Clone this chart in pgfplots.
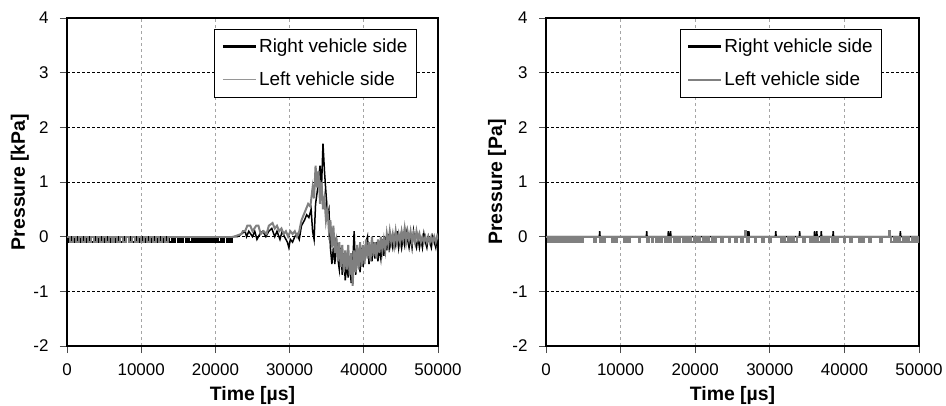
\documentclass[border=0pt]{standalone}
\usepackage{fontspec}
\setmainfont{Liberation Sans}
\usepackage{pgfplots}
\pgfplotsset{compat=1.18}
\definecolor{grline}{RGB}{128,128,128}
\definecolor{gridv}{RGB}{165,165,165}
\definecolor{leggray}{RGB}{150,150,150}

\pgfplotsset{
 myax/.style={
  scale only axis, height=328bp,
  xmin=0, xmax=50000, ymin=-2, ymax=4,
  xtick={0,10000,20000,30000,40000,50000}, ytick={-2,-1,0,1,2,3,4},
  scaled x ticks=false,
  /pgf/number format/1000 sep={},
  /pgf/number format/assume math mode=true,
  tick label style={font=\fontsize{17}{19}\selectfont, black},
  xticklabel style={yshift=-7bp},
  yticklabel style={xshift=-8bp},
  label style={font=\bfseries\fontsize{19.5}{22}\selectfont},
  xlabel style={at={(axis description cs:0.5,-0.152)}, anchor=center},
  ylabel style={at={(axis description cs:-0.127,0.5)}, anchor=center},
  xmajorgrids, ymajorgrids,
  x grid style={gridv, line width=0.8bp, dash pattern=on 3bp off 3bp},
  y grid style={black, line width=0.8bp, dash pattern=on 3bp off 2bp},
  axis line style={black, line width=2bp},
  tick align=outside, major tick length=7bp,
  tick style={black!70, line width=0.8bp},
  xtick pos=bottom, ytick pos=left,
  legend style={anchor=north east, draw=black, line width=0.8bp,
    font=\fontsize{19}{22}\selectfont, inner xsep=7bp, inner ysep=7.5bp,
    row sep=14bp, cells={anchor=west}},
  legend image code/.code={\draw[##1] (0bp,0bp) -- (33bp,0bp);},
 }
}

\begin{document}
\begin{tikzpicture}
\useasboundingbox (0,0) rectangle (946bp,406bp);

% ---------------- left chart ----------------
\begin{axis}[myax, at={(67bp,60bp)}, anchor=south west, width=371bp,
  xlabel={Time [µs]}, ylabel={Pressure [kPa]},
  legend style={at={(rel axis cs:0.943,0.966)}}]
% Right vehicle side: quiet part
\addplot[black, line width=2bp, const plot, forget plot] table[row sep=\\]{
x y\\
0 -0.1\\ 300 0\\ 500 -0.1\\ 800 0\\ 1000 -0.1\\ 1300 -0.1\\ 1400 0\\ 1700 -0.1\\ 2000 0\\ 2200 -0.1\\
2500 0\\ 2800 -0.1\\ 3100 0\\ 3300 -0.1\\ 3600 0\\ 3900 -0.1\\ 4200 0\\ 4400 -0.1\\ 4700 0\\ 5000 -0.1\\
5300 0\\ 5500 -0.1\\ 5800 0\\ 6100 -0.1\\ 6400 0\\ 6600 -0.1\\ 6900 0\\ 7200 -0.1\\ 7500 0\\ 7700 -0.1\\
8000 0\\ 8300 -0.1\\ 8600 0\\ 8800 -0.1\\ 9100 0\\ 9400 -0.1\\ 9700 0\\ 9900 -0.1\\ 10200 0\\ 10500 -0.1\\
10800 0\\ 11000 -0.1\\ 11300 0\\ 11600 -0.1\\ 11900 0\\ 12100 -0.1\\ 12400 0\\ 12700 -0.1\\ 13000 0\\ 13200 -0.1\\
13500 0\\ 13800 -0.1\\ 14100 0\\ 14300 -0.1\\ 14600 0\\ 14900 -0.1\\ 15200 0\\ 15400 -0.1\\ 15700 0\\ 16000 -0.1\\
16300 0\\ 16500 -0.1\\ 16800 0\\ 17100 -0.1\\ 17400 0\\ 17600 -0.1\\ 17900 0\\ 18200 -0.1\\ 18500 0\\ 18700 -0.1\\
19000 0\\ 19300 -0.1\\ 19600 0\\ 19800 -0.1\\ 20100 0\\ 20400 -0.1\\ 20700 0\\ 20900 -0.1\\ 21200 0\\ 21500 -0.1\\
21800 0\\ 22000 -0.1\\ 22300 0\\
};
% Right vehicle side: event
\addplot[black, line width=1.5bp, forget plot] table[row sep=\\]{
x y\\
22300 0\\ 23000 0\\ 23500 0.05\\ 24000 0.1\\ 24200 0\\ 24500 0.1\\ 25000 0\\ 25300 0.1\\
25600 -0.05\\ 26000 0.05\\ 26400 0.1\\ 26800 0\\ 27200 0.1\\ 27600 0.15\\ 28000 0\\ 28300 0.1\\ 28700 -0.05\\ 29000 0.1\\
29300 0\\ 29700 -0.1\\ 29900 -0.2\\ 30100 -0.05\\ 30400 -0.1\\ 30700 0\\ 31000 0.05\\ 31300 -0.05\\ 31600 0.2\\ 32000 0.3\\
32300 0.4\\ 32600 0.35\\ 32900 0.5\\ 33100 0.1\\ 33300 -0.05\\ 33500 0.6\\ 33800 0.9\\ 34100 1.3\\ 34300 0.9\\ 34500 1.7\\
34700 1.2\\ 34900 0.8\\ 35100 0.4\\ 35300 0.5\\ 35500 -0.2\\ 35700 -0.5\\ 35900 -0.2\\ 36100 -0.5\\ 36300 0.0\\ 36500 -0.4\\
36700 -0.6\\ 36900 -0.2\\ 37100 -0.7\\ 37300 -0.3\\ 37500 -0.8\\ 37700 -0.5\\ 37900 -0.75\\ 38100 -0.4\\ 38300 -0.85\\ 38500 -0.5\\
38700 0.1\\ 38900 -0.7\\ 39100 -0.4\\ 39300 -0.3\\ 39500 -0.65\\ 39700 -0.2\\ 39900 -0.55\\ 40100 -0.3\\ 40300 -0.1\\ 40500 0.0\\
40700 -0.5\\ 40900 -0.2\\ 41100 -0.45\\ 41300 -0.1\\ 41500 -0.4\\ 41700 -0.1\\ 41900 -0.45\\ 42100 -0.2\\ 42300 -0.4\\ 42500 -0.05\\
42700 -0.35\\ 42900 0\\ 43100 -0.25\\ 43300 0.05\\ 43500 -0.2\\ 43700 -0.05\\ 43900 -0.2\\ 44100 0\\ 44300 -0.15\\ 44500 0.1\\
44700 -0.2\\ 44900 0\\ 45100 -0.2\\ 45300 0\\ 45500 -0.15\\ 45700 0.1\\ 45900 -0.05\\ 46100 -0.2\\ 46300 0\\ 46500 -0.2\\
46700 0.1\\ 46900 -0.1\\ 47100 -0.2\\ 47300 0\\ 47500 -0.2\\ 47700 -0.05\\ 47900 -0.2\\ 48100 0.05\\ 48300 -0.1\\ 48500 -0.2\\
48700 0\\ 48900 -0.1\\ 49100 -0.2\\ 49300 0\\ 49500 -0.1\\ 49700 -0.2\\ 49900 0\\ 50000 -0.1\\
};
% Left vehicle side: quiet part
\addplot[grline, line width=2bp, const plot, forget plot] table[row sep=\\]{
x y\\
0 0\\ 400 -0.1\\ 800 0\\ 1200 -0.1\\ 1600 0\\ 2000 -0.1\\ 2400 0\\ 2800 -0.1\\ 3200 0\\ 3600 -0.1\\
4000 0\\ 4400 -0.1\\ 4800 0\\ 5200 -0.1\\ 5600 0\\ 6000 -0.1\\ 6400 0\\ 6800 -0.1\\ 7200 0\\ 7600 -0.1\\
8000 0\\ 8400 -0.1\\ 8800 0\\ 9200 -0.1\\ 9600 0\\ 10000 -0.1\\ 10400 0\\ 10800 -0.1\\ 11200 0\\ 11600 -0.1\\
12000 0\\ 12400 -0.1\\ 12800 0\\ 13200 -0.1\\ 13600 0\\ 22500 0\\
};
% Left vehicle side: event
\addplot[grline, line width=2bp, forget plot] table[row sep=\\]{
x y\\
22500 0\\ 23500 0.05\\ 23700 0.1\\ 24000 0.1\\ 24300 0.2\\
24700 0.2\\ 25000 0.1\\ 25500 0.2\\ 25800 0.2\\ 26100 0.05\\ 26500 0.1\\ 26900 0.05\\ 27200 0.2\\ 27700 0.25\\ 28000 0.15\\
28300 0.2\\ 28600 0.1\\ 28900 0.15\\ 29200 0.05\\ 29500 0.1\\ 29800 0.0\\ 30100 0.1\\ 30400 0.05\\ 30700 0.1\\ 31000 0.0\\
31300 0.1\\ 31600 0.3\\ 31900 0.4\\ 32200 0.5\\ 32500 0.6\\ 32800 0.55\\ 33100 0.9\\ 33300 0.7\\ 33500 1.3\\ 33700 0.9\\
33900 1.2\\ 34100 0.6\\ 34300 1.0\\ 34500 0.5\\ 34700 0.7\\ 34900 0.3\\ 35100 0.5\\ 35300 0.1\\ 35500 0.3\\ 35700 -0.2\\
35900 0.2\\ 36100 -0.3\\ 36300 -0.1\\ 36500 -0.45\\ 36700 -0.1\\ 36900 -0.55\\ 37100 -0.15\\ 37300 -0.65\\ 37500 -0.25\\ 37700 -0.6\\
37900 -0.15\\ 38100 -0.7\\ 38300 -0.3\\ 38500 -0.9\\ 38700 -0.25\\ 38900 -0.65\\ 39100 -0.15\\ 39300 -0.6\\ 39500 -0.1\\ 39700 -0.55\\
39900 -0.15\\ 40100 -0.5\\ 40300 -0.05\\ 40500 -0.4\\ 40700 -0.1\\ 40900 -0.45\\ 41100 0\\ 41300 -0.35\\ 41500 -0.1\\ 41700 -0.4\\
41900 -0.05\\ 42100 -0.3\\ 42300 0\\ 42500 -0.25\\ 42700 -0.05\\ 42900 -0.25\\ 43100 0.05\\ 43300 -0.15\\ 43500 0.1\\ 43700 -0.1\\
43900 0.05\\ 44100 -0.15\\ 44300 0.1\\ 44500 -0.1\\ 44700 0.05\\ 44900 -0.1\\ 45100 0.1\\ 45300 -0.05\\ 45500 0.15\\ 45700 -0.1\\
45900 0.1\\ 46100 -0.05\\ 46300 0.1\\ 46500 -0.1\\ 46700 0.05\\ 46900 -0.1\\ 47100 0.1\\ 47300 -0.05\\ 47500 0.05\\ 47700 -0.1\\
47900 0\\ 48100 -0.1\\ 48300 0\\ 48500 -0.1\\ 48700 0\\ 48900 -0.1\\ 49100 0\\ 49300 -0.1\\ 49500 0\\ 49700 -0.1\\
49900 0\\ 50000 -0.05\\
};
\addlegendimage{black, line width=2.4bp}
\addlegendentry{Right vehicle side}
\addlegendimage{leggray, line width=1bp}
\addlegendentry{Left vehicle side}
\end{axis}

% ---------------- right chart ----------------
\begin{axis}[myax, at={(546bp,60bp)}, anchor=south west, width=373bp,
  xlabel={Time [µs]}, ylabel={Pressure [Pa]},
  ylabel style={at={(axis description cs:-0.131,0.5)}},
  legend style={at={(rel axis cs:0.901,0.966)}}]
\addplot[black, line width=1.5bp, forget plot] table[row sep=\\]{
x y\\
0 0\\ 7150 0\\ 7200 0.1\\ 7250 0\\ 13450 0\\ 13500 0.1\\ 13550 0\\ 16350 0\\ 16400 0.1\\ 16450 0\\
16650 0\\ 16700 0.1\\ 16750 0\\ 26950 0\\ 27000 0.1\\ 27050 0\\ 27150 0\\ 27200 0.1\\ 27250 0\\ 30750 0\\
30800 0.1\\ 30850 0\\ 33950 0\\ 34000 0.1\\ 34050 0\\ 35950 0\\ 36000 0.1\\ 36050 0\\ 36250 0\\ 36300 0.1\\
36350 0\\ 36850 0\\ 36900 0.1\\ 36950 0\\ 38450 0\\ 38500 0.1\\ 38550 0\\ 47450 0\\ 47500 0.1\\ 47550 0\\
50000 0\\
};
\addplot[grline, line width=2bp, const plot, forget plot] table[row sep=\\]{
x y\\
0 0\\ 250 -0.1\\ 500 0\\ 750 -0.1\\ 1000 0\\ 1250 -0.1\\ 1500 0\\ 1750 -0.1\\ 2000 0\\ 2250 -0.1\\
2500 0\\ 2750 -0.1\\ 3000 0\\ 3250 -0.1\\ 3500 0\\ 3750 -0.1\\ 4000 0\\ 4250 -0.1\\ 4500 0\\ 4750 -0.1\\
5000 0\\ 6300 0\\ 6500 -0.1\\ 6700 0\\ 7000 0\\ 7200 -0.1\\ 7500 0\\ 7700 -0.1\\ 7900 0\\ 8600 0\\
8800 -0.1\\ 9000 0\\ 9300 -0.1\\ 9500 0\\ 10300 0\\ 10500 -0.1\\ 10700 0\\ 11000 -0.1\\ 11200 0\\ 12200 0\\
12400 -0.1\\ 12600 0\\ 13400 0\\ 13600 -0.1\\ 13800 0\\ 14200 -0.1\\ 14400 0\\ 14700 -0.1\\ 15000 0\\ 15300 -0.1\\
15600 0\\ 15900 -0.1\\ 16200 0\\ 16500 -0.1\\ 16800 0\\ 17100 -0.1\\ 17400 0\\ 17700 -0.1\\ 18000 0\\ 18300 -0.1\\
18600 0\\ 18900 -0.1\\ 19200 0\\ 19500 -0.1\\ 19800 0\\ 20100 -0.1\\ 20400 0\\ 20700 -0.1\\ 21000 0\\ 21300 -0.1\\
21600 0\\ 21900 -0.1\\ 22200 0\\ 22500 -0.1\\ 22800 0\\ 23300 0\\ 23500 -0.1\\ 23700 0\\ 24300 0\\ 24500 -0.1\\
24700 0\\ 25200 0\\ 25400 -0.1\\ 25600 0\\ 26000 0\\ 26200 -0.1\\ 26400 0\\ 26650 0\\ 26700 0.1\\ 26750 0\\
27000 -0.1\\ 27200 0\\ 27800 0\\ 28000 -0.1\\ 28200 0\\ 28800 0\\ 29000 -0.1\\ 29200 0\\ 29700 0\\ 29900 -0.1\\
30100 0\\ 31300 0\\ 31500 -0.1\\ 31800 0\\ 32100 -0.1\\ 32400 0\\ 32700 -0.1\\ 33000 0\\ 33300 -0.1\\ 33600 0\\
34300 0\\ 34500 -0.1\\ 34700 0\\ 35200 0\\ 35400 -0.1\\ 35600 0\\ 35900 -0.1\\ 36200 0\\ 36500 -0.1\\ 36800 0\\
37100 -0.1\\ 37400 0\\ 37700 -0.1\\ 38000 0\\ 38300 -0.1\\ 38600 0\\ 38900 -0.1\\ 39200 0\\ 39700 0\\ 39900 -0.1\\
40100 0\\ 40600 0\\ 40800 -0.1\\ 41000 0\\ 41700 0\\ 41900 -0.1\\ 42100 0\\ 42400 -0.1\\ 42600 0\\ 43100 0\\
43300 -0.1\\ 43500 0\\ 44600 0\\ 44800 -0.1\\ 45000 0\\ 45950 0\\ 46000 0.1\\ 46050 0\\ 46300 -0.1\\ 46600 0\\
46900 -0.1\\ 47200 0\\ 47500 -0.1\\ 47800 0\\ 48100 -0.1\\ 48400 0\\ 48700 -0.1\\ 49000 0\\ 49300 -0.1\\ 49600 0\\
49900 -0.1\\ 50000 0\\
};
\addlegendimage{black, line width=2.4bp}
\addlegendentry{Right vehicle side}
\addlegendimage{grline, line width=2bp}
\addlegendentry{Left vehicle side}
\end{axis}
\end{tikzpicture}
\end{document}
